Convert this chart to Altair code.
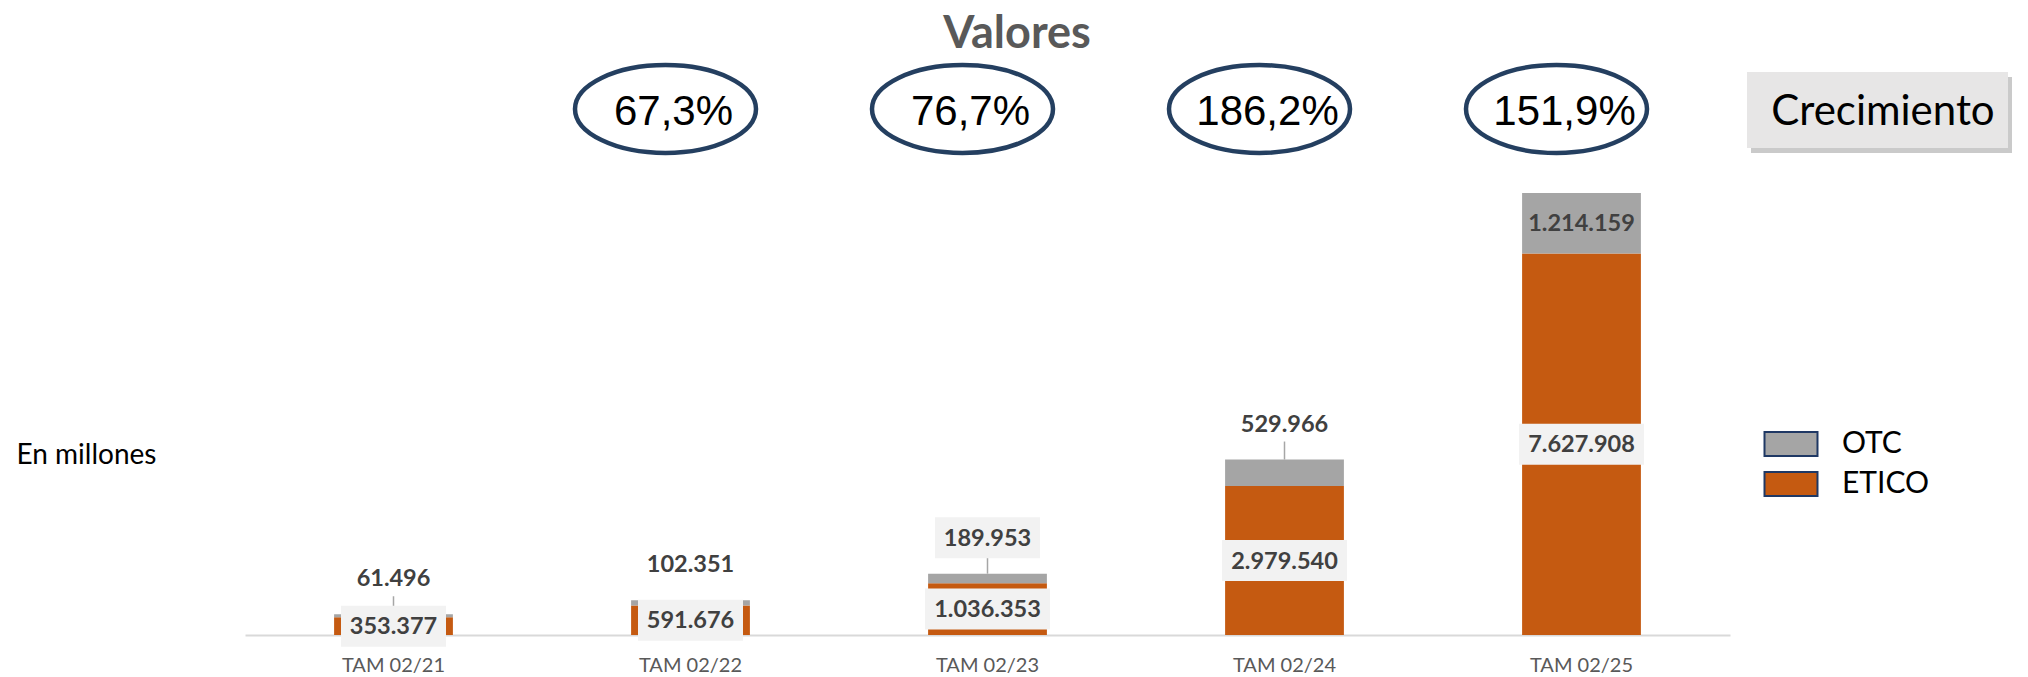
import altair as alt
import pandas as pd

# ---------------- data ----------------
categories = ["TAM 02/21", "TAM 02/22", "TAM 02/23", "TAM 02/24", "TAM 02/25"]
etico = [353377, 591676, 1036353, 2979540, 7627908]
otc = [61496, 102351, 189953, 529966, 1214159]
growth = [None, 67.3, 76.7, 186.2, 151.9]
series = ["OTC", "ETICO"]
series_colors = ["#A5A5A5", "#C55A11"]

# label styling flags (which OTC labels have a callout box / leader line)
otc_boxed = [False, False, True, False, False]
otc_leader = [True, False, True, True, False]

# ---------------- layout ----------------
W, H = 1485, 615
YMAX = 12_300_000
U = YMAX / H  # data units per pixel


def fmt(v):
    return f"{v:,}".replace(",", ".")


def box_path(text):
    s = 130.0
    hw = (10 * len(text) + 35) / s
    hh = 20.5 / (s / 2)
    return f"M{-hw:.4f},{-hh:.4f}L{hw:.4f},{-hh:.4f}L{hw:.4f},{hh:.4f}L{-hw:.4f},{hh:.4f}Z"


bar_rows = []
lab_rows = []
for i, c in enumerate(categories):
    e, o = etico[i], otc[i]
    tot = e + o
    bar_rows.append({"cat": c, "series": "ETICO", "value": e, "ord": 0})
    bar_rows.append({"cat": c, "series": "OTC", "value": o, "ord": 1})
    t = fmt(e)
    lab_rows.append({"cat": c, "text": t, "label_y": e / 2, "boxed": True,
                     "leader": False, "top": tot, "lead_top": tot, "path": box_path(t)})
    inside = o / U > 40
    t = fmt(o)
    lab_rows.append({"cat": c, "text": t,
                     "label_y": (e + o / 2) if inside else tot + 36 * U,
                     "boxed": otc_boxed[i],
                     "leader": otc_leader[i] and not inside,
                     "top": tot, "lead_top": tot + 18 * U, "path": box_path(t)})

bars_df = pd.DataFrame(bar_rows)
lab_df = pd.DataFrame(lab_rows)
g_df = pd.DataFrame({
    "cat": [c for c, g in zip(categories, growth) if g is not None],
    "glabel": [f"{g:.1f}".replace(".", ",") + "%" for g in growth if g is not None],
})
one = pd.DataFrame({"t": ["Valores"], "c": ["Crecimiento"]})

xscale = alt.Scale(paddingInner=0.6, paddingOuter=0.3)
yscale = alt.Scale(domain=[0, YMAX], nice=False, zero=True)
xaxis = alt.Axis(title=None, labelFont="Lato", labelFontSize=20, labelColor="#595959",
                 labelAngle=0, ticks=False, domainColor="#D9D9D9", domainWidth=2,
                 labelPadding=20, grid=False)
yaxis = alt.Axis(title="En millones", labels=False, ticks=False, domain=False, grid=False,
                 titleAngle=0, titleX=-229, titleY=443, titleAlign="left",
                 titleBaseline="alphabetic", titleFont="Lato", titleFontSize=28,
                 titleFontWeight="normal", titleColor="#000000")

X = alt.X("cat:N", sort=categories, scale=xscale, axis=xaxis)


def Y(field):
    return alt.Y(field, scale=yscale, axis=yaxis)


# legend swatch: a 53x24 px rectangle drawn from a path wider than the unit square
rect_sym = "M-1.4,-0.63L1.4,-0.63L1.4,0.63L-1.4,0.63Z"
legend = alt.Legend(orient="none", legendX=1526, legendY=404, title=None,
                    symbolType=rect_sym, symbolSize=1433, symbolStrokeColor="#1F3864",
                    symbolStrokeWidth=2, symbolOpacity=1, labelFont="Lato", labelFontSize=30,
                    labelColor="#000000", labelOffset=31, rowPadding=4, padding=0)

bars = alt.Chart(bars_df).mark_bar().encode(
    x=X,
    y=alt.Y("value:Q", stack="zero", scale=yscale, axis=yaxis),
    color=alt.Color("series:N", scale=alt.Scale(domain=series, range=series_colors), legend=legend),
    order=alt.Order("ord:Q"),
)

rules = alt.Chart(lab_df).transform_filter("datum.leader").mark_rule(
    color="#A6A6A6", strokeWidth=1.5
).encode(x=X, y=Y("top:Q"), y2="lead_top:Q")

boxes = alt.Chart(lab_df).transform_filter("datum.boxed").mark_point(
    filled=True, fill="#F2F2F2", opacity=1, strokeWidth=0, size=16900
).encode(x=X, y=Y("label_y:Q"), shape=alt.Shape("path:N", scale=None))

labels = alt.Chart(lab_df).mark_text(
    font="Lato", fontWeight="bold", fontSize=23.5, color="#404040", baseline="middle", dy=1
).encode(x=X, y=Y("label_y:Q"), text="text:N")

ellipse_path = "M-1,0A1,0.486 0 1,1 1,0A1,0.486 0 1,1 -1,0Z"
ellipses = alt.Chart(g_df).mark_point(
    shape=ellipse_path, size=32761, filled=False, stroke="#243F60", strokeWidth=4.5,
    opacity=1, xOffset=-25
).encode(x=X, y=alt.value(89))

pct = alt.Chart(g_df).mark_text(
    font="Liberation Sans", fontSize=42, color="#000000", baseline="alphabetic", dx=-17
).encode(x=X, y=alt.value(105), text="glabel:N")

title = alt.Chart(one).mark_text(
    font="Lato", fontWeight="bold", fontSize=45, color="#595959", baseline="alphabetic",
    align="center"
).encode(x=alt.value(772), y=alt.value(28), text="t:N")

crec_shadow = alt.Chart(one).mark_rect(fill="#A6A6A6", opacity=0.6).encode(
    x=alt.value(1506), x2=alt.value(1767), y=alt.value(57), y2=alt.value(133))
crec_box = alt.Chart(one).mark_rect(fill="#E7E6E6").encode(
    x=alt.value(1502), x2=alt.value(1763), y=alt.value(52), y2=alt.value(128))
crec_text = alt.Chart(one).mark_text(
    font="Lato", fontSize=42, color="#000000", baseline="alphabetic", align="center"
).encode(x=alt.value(1638), y=alt.value(105), text="c:N")

chart = alt.layer(
    bars, rules, boxes, labels, ellipses, pct, title, crec_shadow, crec_box, crec_text
).properties(
    width=W, height=H,
    background="#FFFFFF",
    padding={"left": 237, "top": 12, "right": 290, "bottom": 40},
    autosize=alt.AutoSizeParams(type="none"),
).configure_view(stroke=None)

chart.save("out.html", embed_options={"renderer": "svg", "actions": False})
